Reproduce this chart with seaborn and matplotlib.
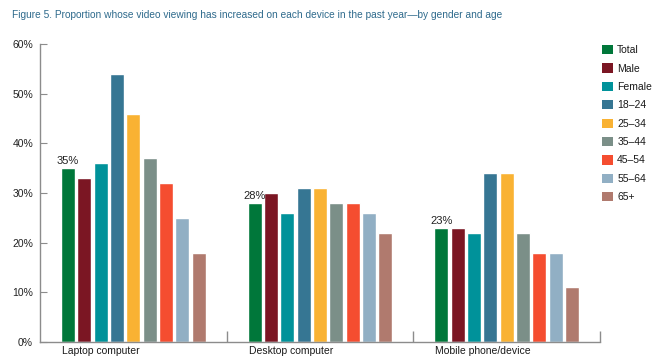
import matplotlib
matplotlib.use("Agg")
import matplotlib.pyplot as plt
import seaborn as sns
import pandas as pd
from matplotlib.patches import Patch

devices = ["Laptop computer", "Desktop computer", "Mobile phone/device"]
groups = ["Total", "Male", "Female", "18–24", "25–34", "35–44", "45–54", "55–64", "65+"]
laptop = [35, 33, 36, 54, 46, 37, 32, 25, 18]
desktop = [28, 30, 26, 31, 31, 28, 28, 26, 22]
mobile = [23, 23, 22, 34, 34, 22, 18, 18, 11]
colors = ["#00773A", "#7B1623", "#00929A", "#367693", "#F9B233",
          "#7B8F88", "#F54D30", "#91AFC4", "#B07A6E"]
title = "Figure 5. Proportion whose video viewing has increased on each device in the past year\u2014by gender and age"
yticks = [0, 10, 20, 30, 40, 50, 60]
ytick_labels = ["0%", "10%", "20%", "30%", "40%", "50%", "60%"]

rows = []
for dev, vals in zip(devices, [laptop, desktop, mobile]):
    for g, v in zip(groups, vals):
        rows.append({"device": dev, "group": g, "value": v})
df = pd.DataFrame(rows)

sns.set_style("white")
plt.rcParams["font.family"] = ["Liberation Sans Narrow", "Liberation Sans", "DejaVu Sans"]

fig = plt.figure(figsize=(6.59, 3.60), dpi=100)
ax = fig.add_axes([40 / 659, 1 - 342 / 360, (600 - 40) / 659, (342 - 44) / 360])

sns.barplot(data=df, x="device", y="value", hue="group", order=devices,
            hue_order=groups, palette=colors, width=0.786, gap=0.14,
            saturation=1, ax=ax, errorbar=None, legend=True)

ax.set_xlim(-0.5, 2.5)
ax.set_ylim(0, 60)
ax.set_xlabel("")
ax.set_ylabel("")

for s in ["top", "right"]:
    ax.spines[s].set_visible(False)
for s in ["left", "bottom"]:
    ax.spines[s].set_color("#8c8c8c")
    ax.spines[s].set_linewidth(1.0)

ax.set_yticks(yticks)
ax.set_yticklabels(ytick_labels)
ax.tick_params(axis="y", direction="in", length=5, color="#8c8c8c",
               labelsize=7.5, labelcolor="#222222", pad=5, left=True)

# category labels aligned to the first bar's left edge
half = 0.786 / 2
ax.set_xticks([i - half + 0.01 for i in range(len(devices))])
ax.set_xticklabels(devices, ha="left")
ax.tick_params(axis="x", length=0, labelsize=7.5, labelcolor="#1a1a1a", pad=3)
ax.set_xticks([0.5, 1.5, 2.5], minor=True)
ax.tick_params(axis="x", which="minor", direction="in", length=8,
               color="#8c8c8c", width=1, bottom=True)

# value labels on the "Total" bars
bars = ax.containers[0]
for rect, v in zip(bars, [laptop[0], desktop[0], mobile[0]]):
    ax.annotate(f"{v}%", (rect.get_x() + rect.get_width() / 2, rect.get_height()),
                xytext=(0, 1.5), textcoords="offset points", ha="center", va="bottom",
                fontsize=8, color="#222222")

leg = ax.get_legend()
if leg is not None:
    leg.remove()
handles = [Patch(facecolor=c, edgecolor="none") for c in colors]
fig.legend(handles, groups, loc="upper left", bbox_to_anchor=(600 / 659, 1 - 43 / 360),
           frameon=False, handlelength=1.05, handleheight=1.0, handletextpad=0.4,
           labelspacing=0.78, fontsize=7.5, borderaxespad=0, borderpad=0.2,
           labelcolor="#1a1a1a")

fig.text(12 / 659, 1 - 15 / 360, title, fontsize=7.3, color="#2E6A8C",
         ha="left", va="center")

fig.savefig("out.png", dpi=100)
